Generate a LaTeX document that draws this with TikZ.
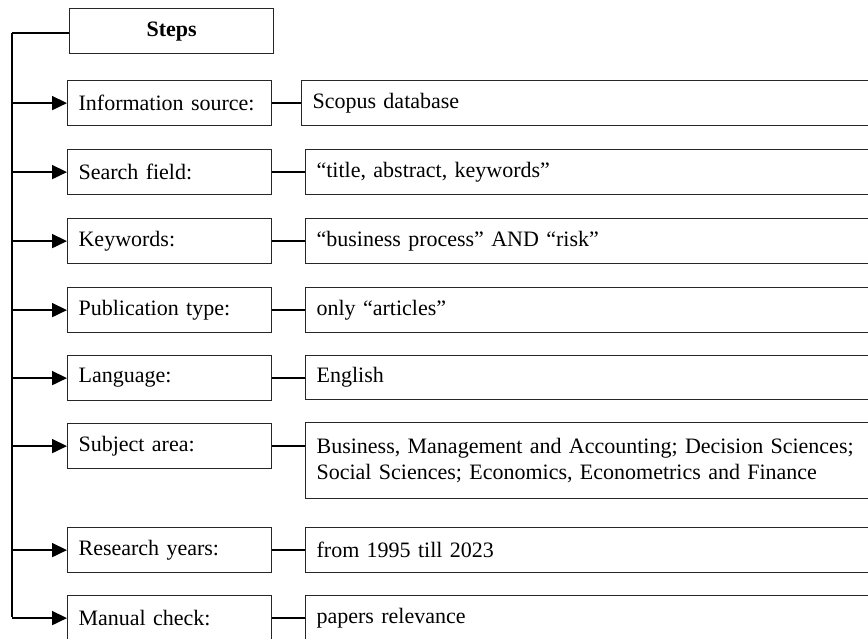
\documentclass[tikz,border=0pt]{standalone}
\usepackage{fontspec}
\setmainfont{Liberation Serif}
\usetikzlibrary{arrows.meta,calc}
\begin{document}
\begin{tikzpicture}[x=1pt,y=-1pt,
  lbox/.style={draw=black!85,line width=1.2pt,rectangle,anchor=north west,
    minimum width=204pt,minimum height=45pt,inner sep=0pt,
    text width=182pt,align=left,font=\fontsize{22}{26.5}\selectfont},
  vbox/.style={draw=black!85,line width=1.2pt,rectangle,anchor=north west,
    minimum height=45pt,inner sep=0pt,
    text width=#1,align=left,font=\fontsize{22}{26.5}\selectfont},
  trunkline/.style={line width=1.8pt,black},
  arr/.style={line width=1.8pt,black,-{Triangle[length=15pt,width=14pt]}},
  link/.style={line width=1.4pt,black}]
\useasboundingbox (0,0) rectangle (868,639);
\clip (0,0) rectangle (868,639);
% Steps header
\node[draw=black!85,line width=1.2pt,rectangle,anchor=north west,
  minimum width=204pt,minimum height=45pt,inner sep=0pt,
  font=\fontsize{22}{26.5}\selectfont\bfseries] (steps) at (69,8) {Steps};
% left boxes
\node[lbox] (l1) at (67,80)  {Information source:};
\node[lbox] (l2) at (67,149) {Search field:};
\node[lbox] (l3) at (67,218) {Keywords:};
\node[lbox] (l4) at (67,287) {Publication type:};
\node[lbox] (l5) at (67,355) {Language:};
\node[lbox] (l6) at (67,423) {Subject area:};
\node[lbox] (l7) at (67,527) {Research years:};
\node[lbox] (l8) at (67,595) {Manual check:};
% value boxes (extend past the right edge)
\node[vbox=592pt,minimum width=614pt] (v1) at (301,80)  {Scopus database};
\node[vbox=588pt,minimum width=610pt] (v2) at (305,149) {“title, abstract, keywords”};
\node[vbox=588pt,minimum width=610pt] (v3) at (305,218) {“business process” AND “risk”};
\node[vbox=588pt,minimum width=610pt] (v4) at (305,287) {only “articles”};
\node[vbox=588pt,minimum width=610pt,minimum height=44pt] (v5) at (305,355) {English};
\node[vbox=588pt,minimum width=610pt,minimum height=76pt] (v6) at (305,422)
  {Business, Management and Accounting; Decision Sciences;\\Social Sciences; Economics, Econometrics and Finance};
\node[vbox=588pt,minimum width=610pt] (v7) at (305,527) {from 1995 till 2023};
\node[vbox=588pt,minimum width=610pt] (v8) at (305,595) {papers relevance};
% trunk
\coordinate (ttop) at (12,33);
\coordinate (tbot) at (12,617);
\draw[trunkline] (ttop) -- (tbot);
\draw[trunkline] (ttop) -- (ttop -| steps.west);
% arrows and links
\foreach \i in {1,...,8}{
  \draw[arr] (ttop |- l\i.west) -- (l\i.west);
  \draw[link] (l\i.east) -- (l\i.east -| v\i.west);
}
\end{tikzpicture}
\end{document}
